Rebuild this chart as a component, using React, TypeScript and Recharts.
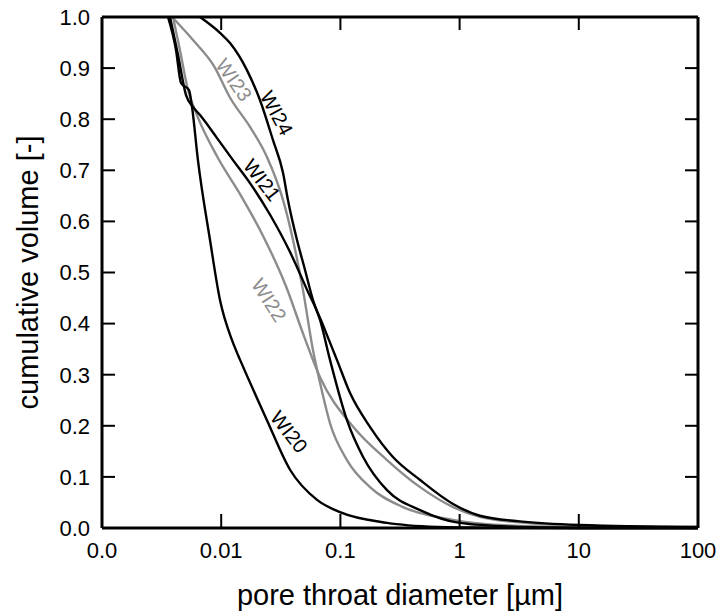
import React from 'react';
import { LineChart, Line, XAxis, YAxis, ReferenceDot, Label } from 'recharts';

// pore throat diameter [µm] / cumulative volume [-]
const wi20D = [0.00358, 0.00418, 0.0046, 0.00537, 0.00569, 0.00638, 0.00805, 0.00977, 0.0123, 0.0138, 0.0144, 0.0242, 0.0378, 0.0637, 0.0993, 0.246, 0.648, 1.0, 10, 100];
const wi20V = [1.0, 0.935, 0.871, 0.857, 0.824, 0.72, 0.564, 0.446, 0.368, 0.339, 0.329, 0.211, 0.114, 0.055, 0.031, 0.01, 0.002, 0.001, 0, 0];

const wi21D = [0.00372, 0.00434, 0.00507, 0.0058, 0.00664, 0.00923, 0.01256, 0.01744, 0.0257, 0.0378, 0.0525, 0.0675, 0.0818, 0.1135, 0.155, 0.246, 0.466, 1.0, 3.2, 10, 100];
const wi21V = [1.0, 0.926, 0.847, 0.824, 0.808, 0.763, 0.72, 0.675, 0.613, 0.54, 0.466, 0.407, 0.329, 0.211, 0.139, 0.074, 0.035, 0.01, 0.002, 0, 0];

const wi22D = [0.00394, 0.00451, 0.00526, 0.00626, 0.0094, 0.0146, 0.0223, 0.0347, 0.0494, 0.0675, 0.128, 0.246, 0.466, 0.881, 1.48, 3.2, 10, 100];
const wi22V = [1.0, 0.935, 0.857, 0.808, 0.724, 0.651, 0.573, 0.475, 0.376, 0.295, 0.198, 0.133, 0.08, 0.041, 0.022, 0.011, 0.005, 0.002];

const wi23D = [0.00387, 0.0058, 0.0088, 0.0118, 0.01744, 0.0242, 0.033, 0.04, 0.0485, 0.0589, 0.0675, 0.0818, 0.1135, 0.177, 0.335, 0.881, 3.2, 10, 100];
const wi23V = [1.0, 0.955, 0.902, 0.843, 0.785, 0.726, 0.642, 0.564, 0.466, 0.348, 0.284, 0.205, 0.133, 0.08, 0.041, 0.016, 0.004, 0.002, 0];

const wi24D = [0.00664, 0.00977, 0.01186, 0.01644, 0.0211, 0.0272, 0.033, 0.0363, 0.0432, 0.0505, 0.0589, 0.0715, 0.0867, 0.0935, 0.1205, 0.177, 0.276, 0.466, 0.881, 1.48, 3.2, 10, 100];
const wi24V = [1.0, 0.969, 0.949, 0.896, 0.838, 0.759, 0.695, 0.642, 0.564, 0.505, 0.446, 0.397, 0.348, 0.329, 0.264, 0.198, 0.139, 0.094, 0.047, 0.024, 0.013, 0.006, 0.002];

const xTicks = [0.001, 0.01, 0.1, 1, 10, 100];
const xTickLabels = ['0.0', '0.01', '0.1', '1', '10', '100'];
const yTicks = [0, 0.1, 0.2, 0.3, 0.4, 0.5, 0.6, 0.7, 0.8, 0.9, 1.0];

// curve name labels
const tagNames = ['WI24', 'WI23', 'WI21', 'WI22', 'WI20'];
const tagX = [0.0292, 0.0128, 0.022, 0.0252, 0.0371];
const tagY = [0.812, 0.877, 0.681, 0.446, 0.188];
const tagAngle = [62, 55, 52, 57, 52];
const tagGray = [false, true, false, true, false];

const BLACK = '#000000';
const GRAY = '#8c8c8c';
const FONT = '"Liberation Sans", Arial, sans-serif';

const toData = (d: number[], v: number[]) => d.map((x, i) => ({ x, y: v[i] }));

const series = [
  { name: 'WI22', data: toData(wi22D, wi22V), color: GRAY },
  { name: 'WI23', data: toData(wi23D, wi23V), color: GRAY },
  { name: 'WI20', data: toData(wi20D, wi20V), color: BLACK },
  { name: 'WI21', data: toData(wi21D, wi21V), color: BLACK },
  { name: 'WI24', data: toData(wi24D, wi24V), color: BLACK },
];

const tickStyle = { fill: '#000', fontSize: 22, fontFamily: FONT };
const frame = { stroke: BLACK, strokeWidth: 3 };
const tickLn = { stroke: BLACK, strokeWidth: 2 };

export default function App() {
  return (
    <div style={{ width: 720, height: 616 }}>
      <style>{'html,body{margin:0;padding:0;overflow:hidden}'}</style>
      <LineChart width={720} height={616} margin={{ top: 16, right: 21, bottom: 0, left: 0 }}>
        <XAxis
          dataKey="x"
          type="number"
          scale="log"
          domain={[0.001, 100]}
          allowDataOverflow
          ticks={xTicks}
          tickFormatter={(v: number) => xTickLabels[xTicks.indexOf(v)] ?? ''}
          height={88}
          tick={tickStyle}
          tickSize={-14}
          tickMargin={28}
          axisLine={frame}
          tickLine={tickLn}
        >
          <Label
            content={({ viewBox }: any) => (
              <text
                x={viewBox.x + viewBox.width / 2}
                y={viewBox.y + 77}
                textAnchor="middle"
                fontSize={29}
                fontFamily={FONT}
                fill="#000"
              >
                pore throat diameter [µm]
              </text>
            )}
          />
        </XAxis>
        <XAxis
          xAxisId="top"
          orientation="top"
          dataKey="x"
          type="number"
          scale="log"
          domain={[0.001, 100]}
          allowDataOverflow
          ticks={xTicks}
          tickFormatter={() => ''}
          height={1}
          tickSize={-13}
          axisLine={frame}
          tickLine={tickLn}
        />
        <YAxis
          type="number"
          domain={[0, 1]}
          ticks={yTicks}
          tickFormatter={(v: number) => v.toFixed(1)}
          width={102}
          tick={tickStyle}
          tickSize={-13}
          tickMargin={25}
          axisLine={frame}
          tickLine={tickLn}
        >
          <Label
            content={({ viewBox }: any) => {
              const cx = 28;
              const cy = viewBox.y + viewBox.height / 2;
              return (
                <text
                  x={cx}
                  y={cy}
                  dy="0.35em"
                  textAnchor="middle"
                  transform={`rotate(-90, ${cx}, ${cy})`}
                  fontSize={29}
                  fontFamily={FONT}
                  fill="#000"
                >
                  cumulative volume [-]
                </text>
              );
            }}
          />
        </YAxis>
        <YAxis
          yAxisId="right"
          orientation="right"
          type="number"
          domain={[0, 1]}
          ticks={yTicks}
          tickFormatter={() => ''}
          width={1}
          tickSize={-13}
          axisLine={frame}
          tickLine={tickLn}
        />
        {series.map((s) => (
          <Line
            key={s.name}
            data={s.data}
            dataKey="y"
            type="monotone"
            stroke={s.color}
            strokeWidth={2.4}
            dot={false}
            activeDot={false}
            isAnimationActive={false}
          />
        ))}
        {/* invisible line so the mirrored top/right axes get drawn */}
        <Line
          data={series[4].data}
          dataKey="y"
          xAxisId="top"
          yAxisId="right"
          stroke="none"
          dot={false}
          activeDot={false}
          isAnimationActive={false}
        />
        {tagNames.map((name, i) => (
          <ReferenceDot
            key={name}
            x={tagX[i]}
            y={tagY[i]}
            r={1}
            fill="none"
            stroke="none"
            label={{
              content: ({ viewBox }: any) => {
                const cx = viewBox.x + viewBox.width / 2;
                const cy = viewBox.y + viewBox.height / 2;
                return (
                  <text
                    x={cx}
                    y={cy}
                    dy="0.35em"
                    textAnchor="middle"
                    transform={`rotate(${tagAngle[i]}, ${cx}, ${cy})`}
                    fontSize={20}
                    fontFamily={FONT}
                    fill={tagGray[i] ? GRAY : BLACK}
                  >
                    {name}
                  </text>
                );
              },
            }}
          />
        ))}
      </LineChart>
    </div>
  );
}
